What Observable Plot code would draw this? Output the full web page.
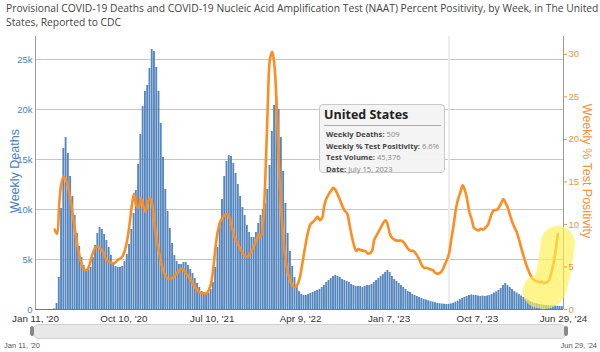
<!DOCTYPE html>
<html><head><meta charset="utf-8">
<script src="https://cdn.jsdelivr.net/npm/d3@7"></script>
<script src="https://cdn.jsdelivr.net/npm/@observablehq/plot@0.6"></script>
<style>
body{margin:0;background:#fff;font-family:"Open Sans",sans-serif;}
#wrap{position:relative;width:600px;height:352px;overflow:hidden;background:#fff;}
#title{position:absolute;left:6px;top:1px;width:596px;font-size:10.3px;line-height:14px;color:#444;}
.layer{position:absolute;left:0;top:30px;}
.ytitle{position:absolute;font-family:"Liberation Sans",Arial,sans-serif;font-size:12.5px;white-space:nowrap;transform-origin:center center;}
#yl{color:#4a84c2;left:-30px;top:164px;width:90px;text-align:center;transform:rotate(-90deg);}
#yr{color:#f7923a;left:519px;top:164px;width:136px;text-align:center;transform:rotate(90deg);}
#tip{position:absolute;left:319px;top:104px;width:124px;height:67px;background:rgba(244,244,244,0.96);border:1px solid #c9c9c9;border-radius:4px;font-family:"Open Sans",sans-serif;}
#tip .tt{position:absolute;left:4px;top:1px;font-size:12.5px;font-weight:700;color:#222;}
#tip .sep{position:absolute;left:4px;right:3px;top:20px;height:1px;background:#aaa;}
#tip .row{position:absolute;left:6px;font-size:7.6px;color:#888;white-space:nowrap;}
#tip .row b{color:#444;}
#slider{position:absolute;left:32px;top:324px;width:533px;height:13px;border-radius:7px;background:#e8e8e8;border:1px solid #d2d2d2;}
.hdl{position:absolute;top:326px;width:4px;height:10px;background:#888;border-radius:2px;}
.sl{position:absolute;top:341px;font-family:"Liberation Sans",Arial,sans-serif;font-size:7.5px;color:#555;}
</style></head>
<body><div id="wrap">
<div id="title">Provisional COVID-19 Deaths and COVID-19 Nucleic Acid Amplification Test (NAAT) Percent Positivity, by Week, in The United States, Reported to CDC</div>
<div id="c1" class="layer"></div>
<div id="c2" class="layer"></div>
<div id="yl" class="ytitle">Weekly Deaths</div>
<div id="yr" class="ytitle">Weekly % Test Positivity</div>
<div id="tip"></div>
<div id="slider"></div>
<div class="hdl" style="left:30px"></div><div class="hdl" style="left:564px"></div>
<div id="sl1" class="sl" style="left:4px"></div><div id="sl2" class="sl" style="right:3px"></div>
</div>
<script>
// Week-ending dates: first week and last week
const firstWeekEnding = "2020-01-11";
const lastWeekEnding = "2024-06-29";

// Weekly deaths, one value per week from Jan 11 2020 to Jun 29 2024
const deaths2020 = [0,0,0,0,0,0,0,0,10,60,600,3200,10100,16100,17200,15600,13300,11300,9400,7600,6300,5200,4400,4000,3900,4200,5200,6400,7600,8200,8000,7500,6900,6200,5400,4700,4300,4200,4200,4300,4800,5500,6500,8000,9600,11900,14500,17500,20300,21800,22400];
const deaths2021 = [24100,26000,25800,24200,21800,18600,15200,12000,9800,8100,6600,5400,4800,4500,4500,4700,4700,4400,4000,3600,3100,2600,2200,1800,1600,1600,1600,2000,2700,4200,6200,8600,11000,13300,14800,15400,15300,14600,13600,12500,11300,10200,9400,8400,7700,7200,7200,7700,8600,9400,10000,10600];
const deaths2022 = [12000,14400,17800,20400,21300,20000,17200,13800,10600,7600,5800,4300,3200,2400,1800,1500,1400,1400,1500,1600,1700,1800,1900,2000,2200,2400,2700,2900,3100,3300,3400,3300,3200,3000,2900,2800,2700,2500,2400,2300,2300,2300,2200,2300,2400,2400,2500,2700,2900,3100,3300,3500,3700];
const deaths2023 = [3900,3700,3300,3000,2800,2600,2400,2200,2000,1800,1700,1500,1400,1300,1200,1100,1000,950,880,800,740,680,620,580,550,520,500,509,560,620,720,840,980,1100,1200,1300,1400,1450,1400,1400,1350,1300,1350,1300,1350,1400,1500,1650,1750,1900,2100,2400];
const deaths2024 = [2600,2400,2200,2000,1800,1650,1500,1350,1200,1050,920,800,700,620,560,500,460,420,400,380,360,350,340,320,300,280];

// Weekly % test positivity, from the week ending Mar 14 2020 (week 9) onward
const positivityStartWeek = 9;
const positivity = [9.4,8.9,12.5,14.9,15.6,15.2,14.2,12.9,11.0,9.2,7.5,6.2,5.2,4.7,4.6,5.0,5.9,6.8,7.3,7.4,7.2,6.9,6.3,5.8,5.6,5.5,5.4,5.6,5.9,6.0,6.3,7.0,8.2,10.0,12.2,13.6,12.2,12.0,13.1,12.2,11.5,12.6,13.1,12.4,10.2,8.1,6.8,5.4,4.5,3.9,3.6,3.6,3.7,4.0,4.3,4.6,4.8,4.6,4.2,3.9,3.5,3.0,2.6,2.3,2.0,1.9,1.9,1.9,2.3,3.1,4.9,7.5,9.3,10.3,10.8,11.1,11.2,10.9,9.9,8.8,8.1,7.6,7.1,6.6,6.3,6.2,6.5,6.9,7.5,8.2,8.8,8.6,10.5,16.0,24.0,29.5,30.3,28.5,23.5,16.5,11.5,8.0,5.5,4.2,3.3,2.8,2.6,2.9,3.6,5.0,6.6,8.1,9.4,10.1,10.3,10.6,10.9,10.5,10.8,12.3,13.1,13.6,14.0,14.3,14.0,13.4,12.8,12.1,11.6,11.3,10.1,8.7,7.6,6.9,7.1,7.0,6.9,6.9,6.6,6.6,6.9,8.2,8.7,9.2,9.7,10.2,10.5,9.9,8.8,8.4,8.2,8.1,8.1,8.1,7.9,7.5,7.1,6.9,6.9,6.7,6.3,5.8,5.2,4.9,4.9,4.8,4.7,4.6,4.3,4.2,4.3,4.6,5.2,5.8,6.6,8.3,9.9,11.8,13.0,13.8,14.6,14.0,12.9,11.4,10.6,9.6,9.4,9.3,9.5,9.4,9.6,9.9,10.6,11.4,11.7,11.7,12.0,12.5,13.0,12.5,11.9,11.0,10.2,9.6,9.0,8.1,7.1,6.2,5.3,4.6,4.0,3.6,3.4,3.3,3.2,3.3,3.1,3.2,3.4,4.2,5.3,6.9,8.9];

// Axis ticks
const deathTicks = [0,5000,10000,15000,20000,25000];
const positivityTicks = [0,5,10,15,20,25,30];
const xTickDates = ["2020-01-11","2020-10-10","2021-07-10","2022-04-09","2023-01-07","2023-10-07","2024-06-29"];

// Tooltip (hovered week) and highlighted stretch
const hoverWeek = "2023-07-15";
const hoverTestVolume = 45376;
const highlightWeeks = ["2024-04-20","2024-06-15"];

const parse = d3.utcParse("%Y-%m-%d");
const fmt = d3.utcFormat("%b %-d, '%y");
const xStart = parse(firstWeekEnding), xEnd = parse(lastWeekEnding);
const deaths = [...deaths2020, ...deaths2021, ...deaths2022, ...deaths2023, ...deaths2024];
const rows = deaths.map((v, i) => {
  const end = d3.utcDay.offset(xStart, 7 * i);
  return {end, start: d3.utcDay.offset(end, -7), mid: d3.utcHour.offset(end, -84), deaths: v, pos: null};
});
positivity.forEach((p, k) => { rows[positivityStartWeek + k].pos = p; });
const posRows = rows.filter(r => r.pos != null);
const h0 = parse(highlightWeeks[0]), h1 = parse(highlightWeeks[1]);
const hlRows = posRows.filter(r => r.end >= h0 && r.end <= h1);
const hover = rows.find(r => +r.end === +parse(hoverWeek));

const dims = {width:600, height:300, marginLeft:35, marginRight:37, marginTop:6, marginBottom:21};
const style = {fontFamily:"'Liberation Sans', Arial, sans-serif", fontSize:"9.5px", background:"transparent", overflow:"visible"};

const p1 = Plot.plot({
  ...dims, style,
  x: {type:"utc", domain:[xStart, xEnd]},
  y: {domain:[0, 27300]},
  marks: [
    Plot.gridY({ticks: deathTicks.filter(d => d > 0), stroke:"#c6c6c6", strokeOpacity:1}),
    Plot.ruleX([hover.mid], {stroke:"#ececec", strokeWidth:2}),
    Plot.rectY(rows, {x1:"start", x2:"end", y:"deaths", fill:"#5686be", insetLeft:0.2, insetRight:0.2}),
    Plot.ruleY([0], {stroke:"#777"}),
    Plot.ruleX([xStart], {stroke:"#9a9a9a"}),
    Plot.axisY({ticks: deathTicks, anchor:"left", tickSize:0, tickPadding:3, color:"#4a84c2", tickFormat: d => d === 0 ? "0" : (d/1000) + "k", label:null}),
    Plot.axisX({ticks: xTickDates.map(parse), tickSize:0, tickPadding:6, color:"#333", fontSize:9.8, tickFormat: fmt, label:null})
  ]
});
document.getElementById("c1").appendChild(p1);

const p2 = Plot.plot({
  ...dims, style,
  x: {type:"utc", domain:[xStart, xEnd], axis:null},
  y: {domain:[0, 32.1]},
  marks: [
    Plot.ruleX([xEnd], {stroke:"#9a9a9a"}),
    Plot.line(posRows, {x:"mid", y:"pos", stroke:"#ff8c1f", strokeWidth:2.6, curve:"catmull-rom"}),
    Plot.line(hlRows, {x:"mid", y:"pos", dy:9, stroke:"#fff04d", strokeOpacity:0.65, strokeWidth:34, strokeLinecap:"round", curve:"catmull-rom"}),
    Plot.axisY({ticks: positivityTicks, anchor:"right", tickSize:3, tickPadding:2, color:"#f7923a", label:null})
  ]
});
document.getElementById("c2").appendChild(p2);

const nf = d3.format(",");
document.getElementById("tip").innerHTML =
  `<div class="tt">United States</div><div class="sep"></div>` +
  `<div class="row" style="top:24px"><b>Weekly Deaths:</b> ${nf(hover.deaths)}</div>` +
  `<div class="row" style="top:36px"><b>Weekly % Test Positivity:</b> ${hover.pos}%</div>` +
  `<div class="row" style="top:47px"><b>Test Volume:</b> ${nf(hoverTestVolume)}</div>` +
  `<div class="row" style="top:59px"><b>Date:</b> ${d3.utcFormat("%B %-d, %Y")(hover.end)}</div>`;
document.getElementById("sl1").textContent = fmt(xStart);
document.getElementById("sl2").textContent = fmt(xEnd);
</script>
</body></html>
